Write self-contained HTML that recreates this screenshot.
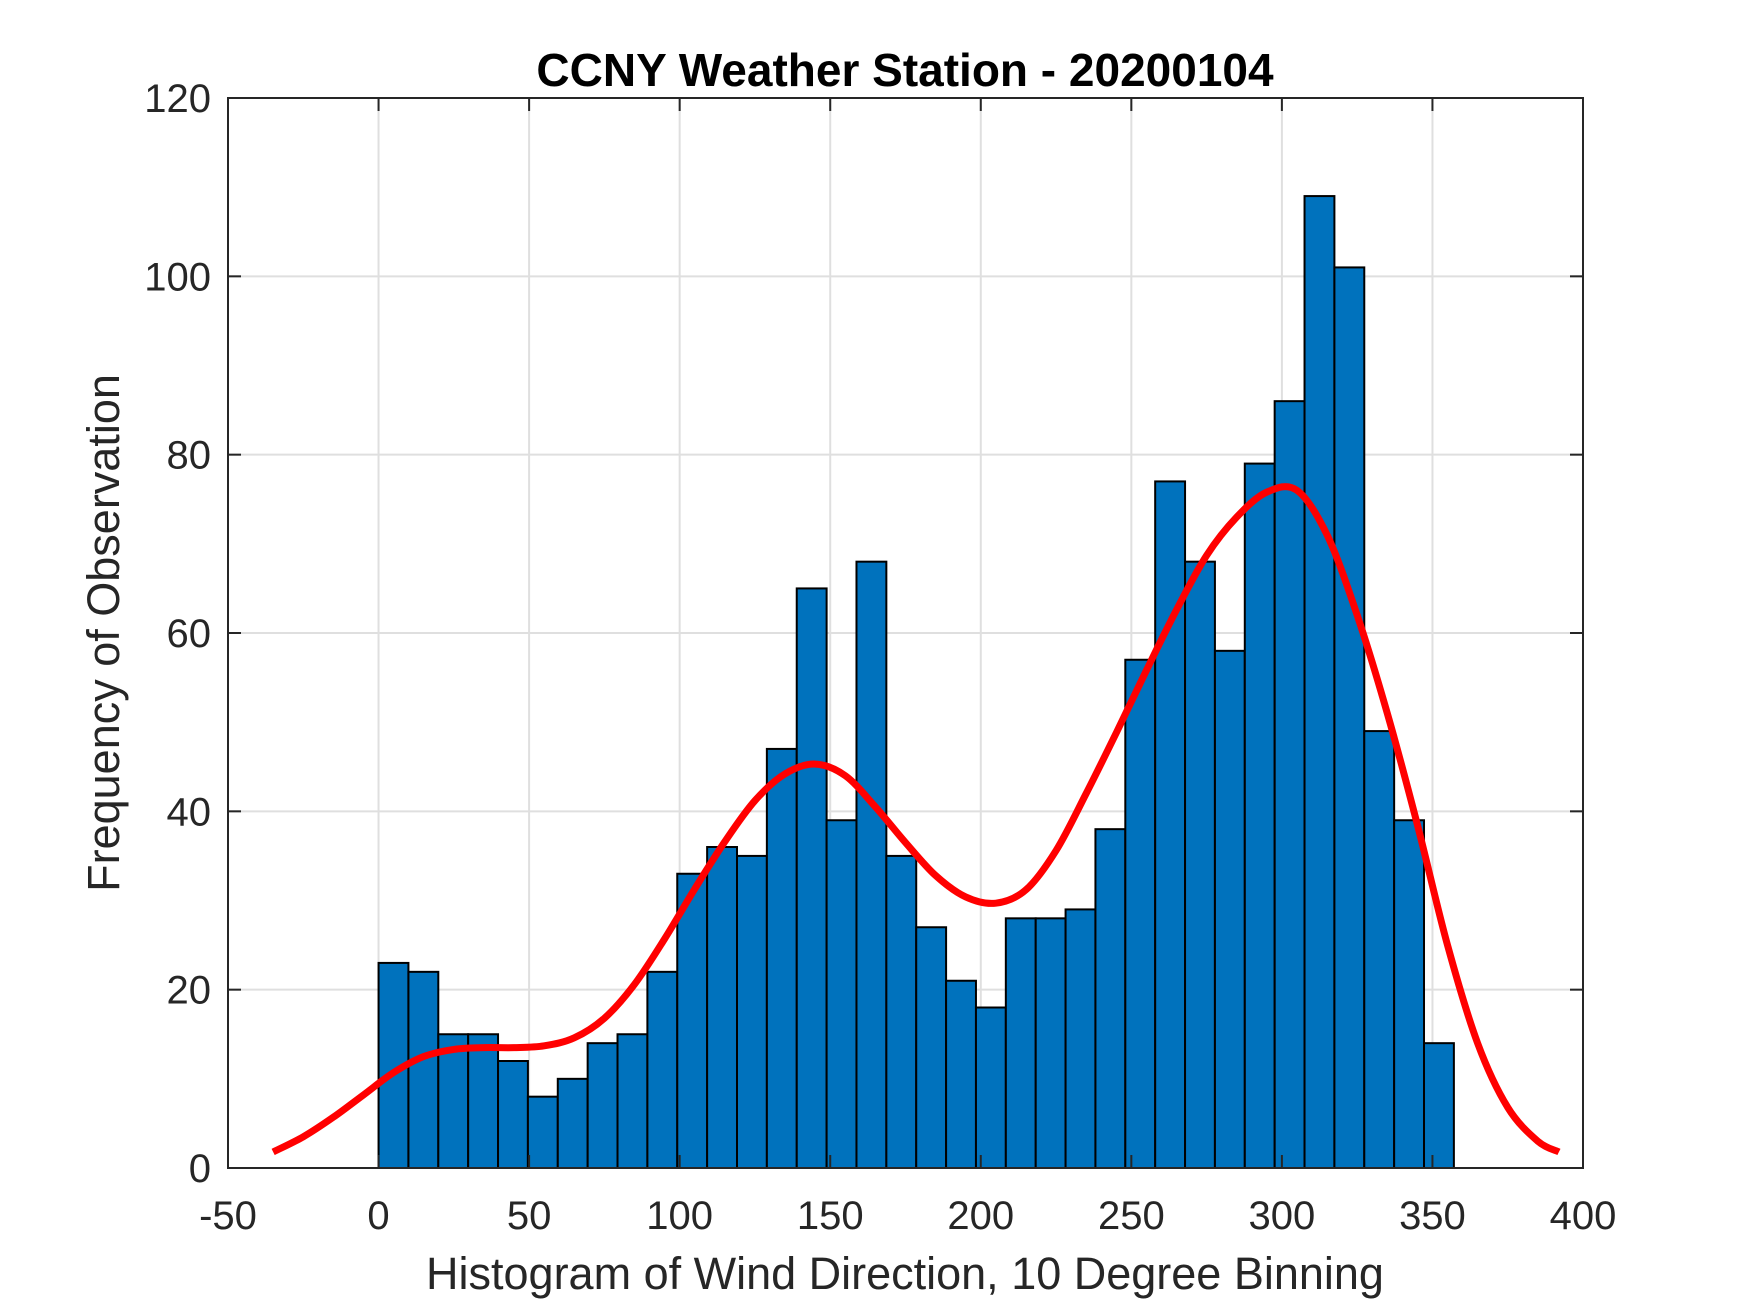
<!DOCTYPE html>
<html><head><meta charset="utf-8"><style>
html,body{margin:0;padding:0;background:#fff;}
svg{display:block;font-family:"Liberation Sans",Arial,sans-serif;}
</style></head><body>
<svg id="chart" width="1750" height="1313" viewBox="0 0 1750 1313">
<rect x="0" y="0" width="1750" height="1313" fill="#fff"/>
<g id="grid"></g>
<g id="bars"></g>
<path id="fit" fill="none" stroke="#ff0000" stroke-width="7" stroke-linejoin="round" stroke-linecap="butt"/>
<rect x="228" y="98" width="1355" height="1070" fill="none" stroke="#262626" stroke-width="2"/>
<g id="ticks"></g>
<text x="905" y="86" text-anchor="middle" font-size="46" font-weight="bold" fill="#000">CCNY Weather Station - 20200104</text>
<text x="905" y="1289" text-anchor="middle" font-size="45" fill="#262626">Histogram of Wind Direction, 10 Degree Binning</text>
<text transform="translate(119,633) rotate(-90)" text-anchor="middle" font-size="45" fill="#262626">Frequency of Observation</text>
</svg>
<script>
const binStart = 0;
const binWidth = 9.92;
const counts = [23,22,15,15,12,8,10,14,15,22,33,36,35,47,65,39,68,35,27,21,18,28,28,29,38,57,77,68,58,79,86,109,101,49,39,14];
const fitX = [-35,-25,-15,-5,5,15,25,35,45,55,65,75,85,95,105,115,125,135,145,155,165,175,185,195,205,215,225,235,245,255,265,275,285,295,305,315,325,335,345,355,365,375,385,392];
const fitY = [1.8,3.5,5.7,8.2,10.7,12.5,13.3,13.5,13.5,13.7,14.6,16.8,20.6,25.7,31.3,36.6,41.2,44.2,45.3,44,40.5,36.5,32.8,30.4,29.7,31.2,35.6,42,48.8,55.8,62.6,68.7,73,75.8,76,71,62,51,38.5,25,14,6.8,3,1.8];
const xTicks = [-50,0,50,100,150,200,250,300,350,400];
const yTicks = [0,20,40,60,80,100,120];

const L=228,R=1583,T=98,B=1168,xmin=-50,xmax=400,ymin=0,ymax=120;
const sx=v=>L+(v-xmin)*(R-L)/(xmax-xmin);
const sy=v=>B-(v-ymin)*(B-T)/(ymax-ymin);
const NS='http://www.w3.org/2000/svg';
function mk(tag,attrs,parent){const e=document.createElementNS(NS,tag);for(const k in attrs)e.setAttribute(k,attrs[k]);parent.appendChild(e);return e;}
const grid=document.getElementById('grid'),ticks=document.getElementById('ticks'),bars=document.getElementById('bars');
xTicks.forEach(t=>{const x=sx(t);
 if(t>xmin&&t<xmax){const g=mk('line',{x1:x,x2:x,y1:T,y2:B,stroke:'#dfdfdf','stroke-width':2},grid);
 
 }
 const a=mk('line',{x1:x,x2:x,y1:B,y2:B-13,stroke:'#262626','stroke-width':2},ticks);
 
 
 const b=mk('line',{x1:x,x2:x,y1:T,y2:T+13,stroke:'#262626','stroke-width':2},ticks);
 
 
 const lb=mk('text',{x:x,y:1229,'text-anchor':'middle','font-size':40,fill:'#262626'},ticks);lb.textContent=t;
 
 
});
yTicks.forEach(t=>{const y=sy(t);
 if(t>ymin&&t<ymax){const g=mk('line',{x1:L,x2:R,y1:y,y2:y,stroke:'#dfdfdf','stroke-width':2},grid);
 
 }
 const a=mk('line',{x1:L,x2:L+13,y1:y,y2:y,stroke:'#262626','stroke-width':2},ticks);
 
 
 const b=mk('line',{x1:R,x2:R-13,y1:y,y2:y,stroke:'#262626','stroke-width':2},ticks);
 
 
 const lb=mk('text',{x:211,y:y+14,'text-anchor':'end','font-size':40,fill:'#262626'},ticks);lb.textContent=t;
 
 
});
counts.forEach((c,i)=>{const x0=sx(binStart+i*binWidth),x1=sx(binStart+(i+1)*binWidth);
 const r=mk('rect',{x:x0,y:sy(c),width:x1-x0,height:sy(0)-sy(c),fill:'#0072bd',stroke:'#000','stroke-width':2},bars);
 
 
});
const P=fitX.map((x,i)=>[sx(x),sy(fitY[i])]);
let d='M'+P[0][0]+','+P[0][1];
for(let i=0;i<P.length-1;i++){const p0=P[Math.max(0,i-1)],p1=P[i],p2=P[i+1],p3=P[Math.min(P.length-1,i+2)];
 const c1=[p1[0]+(p2[0]-p0[0])/6,p1[1]+(p2[1]-p0[1])/6],c2=[p2[0]-(p3[0]-p1[0])/6,p2[1]-(p3[1]-p1[1])/6];
 d+=' C'+c1[0]+','+c1[1]+' '+c2[0]+','+c2[1]+' '+p2[0]+','+p2[1];}
document.getElementById('fit').setAttribute('d',d);
</script>
</body></html>
